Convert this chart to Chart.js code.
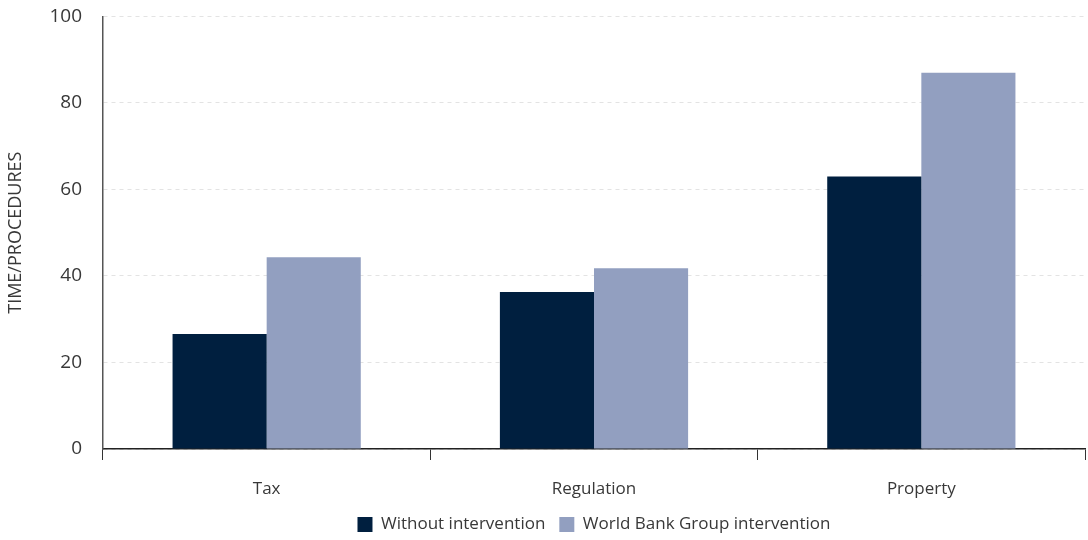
<!DOCTYPE html>
<html>
<head>
<meta charset="utf-8">
<script src="https://cdn.jsdelivr.net/npm/chart.js@4/dist/chart.umd.min.js"></script>
<style>
  html, body { margin: 0; padding: 0; background: #fff; }
  #wrap { width: 1088px; height: 540px; position: relative; }
</style>
</head>
<body>
<div id="wrap"><canvas id="chart"></canvas></div>
<script>
const categories = ['Tax', 'Regulation', 'Property'];
const withoutIntervention = [26.6, 36.3, 63.0];
const wbgIntervention = [44.3, 41.8, 87.0];
const yTicks = [0, 20, 40, 60, 80, 100];

const textColor = '#383838';
const fontFamily = '"Open Sans", Lato, sans-serif';

new Chart(document.getElementById('chart'), {
  type: 'bar',
  data: {
    labels: categories,
    datasets: [
      {
        label: 'Without intervention',
        data: withoutIntervention,
        backgroundColor: '#001f3f',
        categoryPercentage: 0.575,
        barPercentage: 1
      },
      {
        label: 'World Bank Group intervention',
        data: wbgIntervention,
        backgroundColor: '#929fc0',
        categoryPercentage: 0.575,
        barPercentage: 1
      }
    ]
  },
  options: {
    responsive: true,
    maintainAspectRatio: false,
    animation: false,
    layout: { padding: { top: 0, right: 3, bottom: -3, left: 0 } },
    plugins: {
      legend: {
        position: 'bottom',
        fullSize: false,
        labels: {
          color: textColor,
          font: { family: fontFamily, size: 17 },
          boxWidth: 15,
          boxHeight: 15,
          padding: 14
        }
      },
      tooltip: { enabled: false }
    },
    scales: {
      x: {
        grid: { display: true, drawOnChartArea: false, drawTicks: true, tickLength: 11, color: '#333' },
        border: { color: '#222', width: 1.5 },
        ticks: { color: textColor, font: { family: fontFamily, size: 17 }, padding: 19 },
        afterFit: scale => { scale.height = 53; }
      },
      y: {
        min: 0,
        max: 100,
        afterBuildTicks: axis => { axis.ticks = yTicks.map(v => ({ value: v })); },
        afterFit: scale => { scale.width = 103; },
        grid: { color: '#e3e3e3', drawTicks: true, tickLength: 16, tickColor: 'rgba(0,0,0,0)' },
        border: { color: '#555', width: 1.5, dash: [4, 4] },
        ticks: { color: textColor, font: { family: fontFamily, size: 19 }, padding: 5 },
        title: {
          display: true,
          text: 'TIME/PROCEDURES',
          color: textColor,
          font: { family: fontFamily, size: 18 },
          padding: { top: 5, bottom: 0 }
        }
      }
    }
  }
});
</script>
</body>
</html>
